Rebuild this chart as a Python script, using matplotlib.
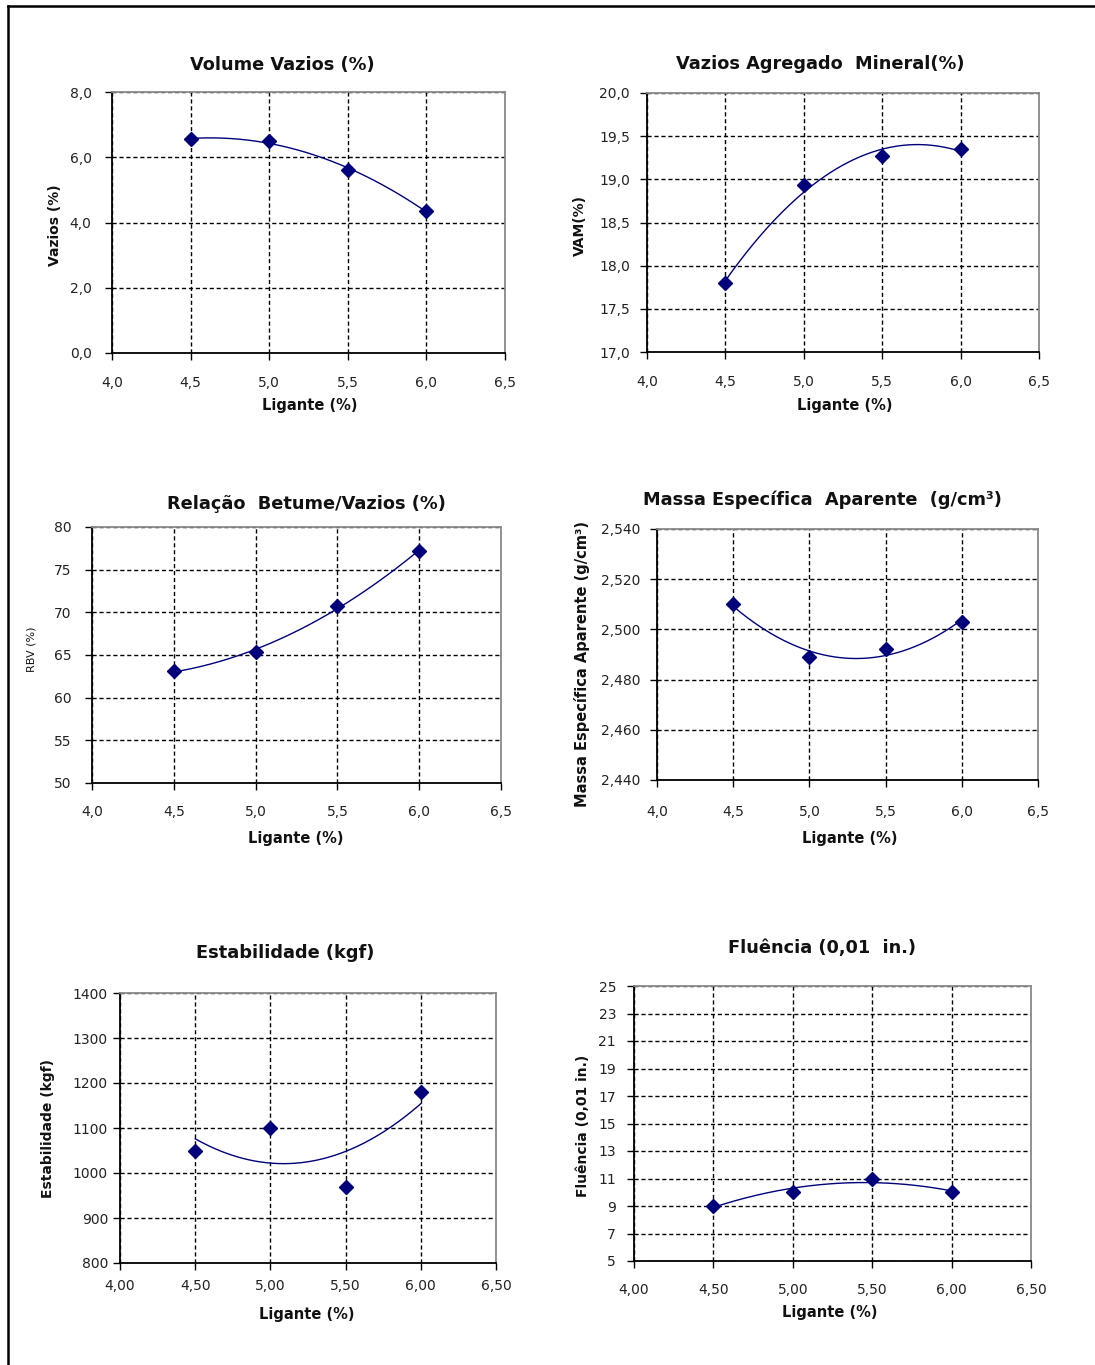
import numpy as np
import matplotlib
matplotlib.use("Agg")
import matplotlib.pyplot as plt
from matplotlib.ticker import FuncFormatter, FixedLocator
from matplotlib.lines import Line2D

plt.rcParams['font.family'] = ['DejaVu Sans']

# ---------------- data ----------------
ligante = [4.5, 5.0, 5.5, 6.0]
vazios = [6.55, 6.50, 5.60, 4.35]
vam = [17.80, 18.93, 19.27, 19.35]
rbv = [63.1, 65.4, 70.7, 77.2]
massa = [2.510, 2.489, 2.492, 2.503]
estabilidade = [1050, 1100, 970, 1180]
fluencia = [9, 10, 11, 10]

titles = ["Volume Vazios (%)", "Vazios Agregado  Mineral(%)",
          "Relação  Betume/Vazios (%)", "Massa Específica  Aparente  (g/cm³)",
          "Estabilidade (kgf)", "Fluência (0,01  in.)"]
ylabels = ["Vazios (%)", "VAM(%)", "RBV (%)", "Massa Específica Aparente (g/cm³)",
           "Estabilidade (kgf)", "Fluência (0,01 in.)"]
xlabel = "Ligante (%)"

# y axis ranges / ticks: (min, max, step, decimals)
y_axes = [(0, 8, 2, 1), (17, 20, 0.5, 1), (50, 80, 5, 0),
          (2.44, 2.54, 0.02, 3), (800, 1400, 100, 0), (5, 25, 2, 0)]
x_decimals = [1, 1, 1, 1, 2, 2]
series = [vazios, vam, rbv, massa, estabilidade, fluencia]

# ---------------- layout (pixels) ----------------
W, H = 1095, 1365
boxes = [(112, 505, 92, 353), (647, 1039, 93, 352), (92, 501, 527, 783),
         (657, 1038, 529, 780), (120, 496, 993, 1263), (634, 1031, 986, 1261)]
title_pos = [(282, 65), (820, 64), (306, 504), (822, 500), (285, 953), (822, 948)]
xlab_pos = [(310, 405), (845, 405), (296, 838), (850, 838), (307, 1315), (830, 1313)]
ylab_pos = [(55, 225), (580, 225), (32, 649), (582, 664), (48, 1128), (583, 1126)]
xpads = [11.6, 11.6, 10.9, 13.0, 6.6, 10.9]
ypads = [9.7, 7.2, 9.7, 7.2, 3.6, 7.9]

fig = plt.figure(figsize=(W / 100, H / 100), dpi=100)


def fx(x):
    return x / W


def fy(y):
    return 1 - y / H


def add_ax(l, r, t, b):
    return fig.add_axes([fx(l), fy(b), (r - l) / W, (b - t) / H])


def comma(dec):
    return FuncFormatter(lambda v, p: (f"{v:.{dec}f}").replace(".", ","))


navy = "#00007a"

for i in range(6):
    ax = add_ax(*boxes[i])
    x = np.array(ligante)
    y = np.array(series[i], dtype=float)
    coef = np.polyfit(x, y, 2)
    xs = np.linspace(x.min(), x.max(), 200)
    ax.plot(xs, np.polyval(coef, xs), color=navy, lw=1.0, zorder=3)
    ax.plot(x, y, linestyle="none", marker="D", ms=7, color=navy, zorder=4)
    ymin, ymax, ystep, ydec = y_axes[i]
    ax.set_xlim(4.0, 6.5)
    ax.set_ylim(ymin, ymax)
    ax.xaxis.set_major_locator(FixedLocator(np.arange(4.0, 6.5001, 0.5)))
    ax.yaxis.set_major_locator(FixedLocator(np.arange(ymin, ymax + ystep / 2, ystep)))
    ax.xaxis.set_major_formatter(comma(x_decimals[i]))
    ax.yaxis.set_major_formatter(comma(ydec))
    ax.set_axisbelow(True)
    ax.grid(True, color="black", linestyle=(0, (3, 2)), linewidth=1.0)
    for s in ("left", "bottom"):
        ax.spines[s].set_color("black")
        ax.spines[s].set_linewidth(1.3)
        ax.spines[s].set_zorder(5)
    for s in ("top", "right"):
        ax.spines[s].set_color("#8a8a8a")
        ax.spines[s].set_linewidth(1.3)
        ax.spines[s].set_zorder(5)
    ax.tick_params(direction="out", length=5, width=1.0, color="black",
                   labelsize=10, labelcolor="#222222")
    ax.tick_params(axis="x", pad=xpads[i])
    ax.tick_params(axis="y", pad=ypads[i])
    # titles and labels
    fig.text(fx(title_pos[i][0]), fy(title_pos[i][1]), titles[i], ha="center",
             va="center", fontsize=12.8, fontweight="bold", color="#111111")
    fig.text(fx(xlab_pos[i][0]), fy(xlab_pos[i][1]), xlabel, ha="center",
             va="center", fontsize=10.5, fontweight="bold", color="#111111")
    if i == 2:
        fig.text(fx(ylab_pos[i][0]), fy(ylab_pos[i][1]), ylabels[i], ha="center",
                 va="center", fontsize=8, rotation=90, color="#111111")
    else:
        fig.text(fx(ylab_pos[i][0]), fy(ylab_pos[i][1]), ylabels[i], ha="center",
                 va="center", fontsize=10 if i != 3 else 10.5, fontweight="bold",
                 rotation=90, color="#111111")

# outer frame (left and top edges)
fig.add_artist(Line2D([fx(8), fx(8)], [fy(6), 0], color="black", lw=1.8))
fig.add_artist(Line2D([fx(8), 1], [fy(6), fy(6)], color="black", lw=1.8))

fig.savefig("out.png", dpi=100)
